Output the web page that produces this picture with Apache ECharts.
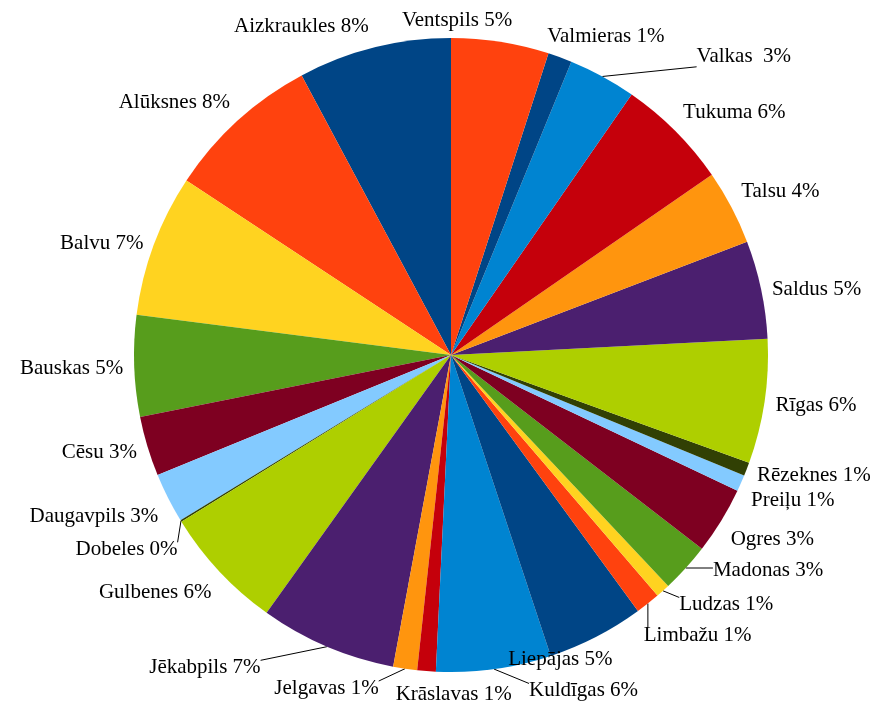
<!DOCTYPE html>
<html>
<head>
<meta charset="utf-8">
<script src="https://cdn.jsdelivr.net/npm/echarts@6/dist/echarts.min.js"></script>
<style>html,body{margin:0;padding:0;background:#fff;}#c{width:882px;height:706px;}</style>
</head>
<body>
<div id="c"></div>
<script>
const categories = ["Aizkraukles","Alūksnes","Balvu","Bauskas","Cēsu","Daugavpils","Dobeles","Gulbenes","Jēkabpils","Jelgavas","Krāslavas","Kuldīgas","Liepājas","Limbažu","Ludzas","Madonas","Ogres","Preiļu","Rēzeknes","Rīgas","Saldus","Talsu","Tukuma","Valkas ","Valmieras","Ventspils"];
const values = [7.8,7.9,7.25,5.15,3.05,2.55,0.08,6.3,6.95,1.22,0.94,5.85,4.94,1.25,0.72,2.52,3.42,0.83,0.69,6.33,5.0,3.8,5.72,3.45,1.22,4.97];
const palette = ["#004586","#ff420e","#ffd320","#579d1c","#7e0021","#83caff","#314004","#aecf00","#4b1f6f","#ff950e","#c5000b","#0084d1"];

// layout settings (not data)
const CX = 451, CY = 355, R = 317, GAP = 11;
// label nudges away from the default outside placement (used to resolve overlaps)
const labelNudge = {
  "Aizkraukles":[-70,0], "Ventspils":[-45,0], "Valmieras":[42,0], "Valkas ":[89,0],
  "Madonas":[19,-18], "Ludzas":[9,-7], "Limbažu":[-11,10], "Liepājas":[-93,0],
  "Kuldīgas":[88,-2], "Krāslavas":[28,-1], "Jelgavas":[-77,-4], "Jēkabpils":[-62,-2],
  "Dobeles":[6,10]
};
const leaderNames = ["Valkas ","Madonas","Ludzas","Limbažu","Kuldīgas","Jelgavas","Jēkabpils","Dobeles"];

const total = values.reduce((a,b)=>a+b,0);
const mids = [];
(function(){ let cum=0; values.forEach(v=>{ mids.push(360*(1-(cum+v/2)/total)); cum+=v; }); })();

function layoutLabel(params){
  const i = params.dataIndex;
  const th = mids[i]*Math.PI/180;
  const ux = Math.sin(th), uy = -Math.cos(th);
  const ax = CX + (R+GAP)*ux, ay = CY + (R+GAP)*uy;
  const w = params.labelRect.width, h = params.labelRect.height;
  let phi = ((90 - mids[i]) % 360 + 360) % 360;
  let fx, fy;
  if (phi <= 22.5 || phi >= 337.5) { fx=0; fy=0.5; }
  else if (phi < 67.5) { fx=0; fy=1; }
  else if (phi < 112.5) { fx=0.5; fy=1; }
  else if (phi <= 157.5) { fx=1; fy=1; }
  else if (phi <= 202.5) { fx=1; fy=0.5; }
  else if (phi < 247.5) { fx=1; fy=0; }
  else if (phi < 292.5) { fx=0.5; fy=0; }
  else { fx=0; fy=0; }
  const n = labelNudge[categories[i]] || [0,0];
  const left = ax - fx*w + n[0];
  const top = ay - fy*h + n[1] + (fy < 1 ? 2.5 : 0);
  const ex = CX + R*ux, ey = CY + R*uy;
  const px = Math.min(Math.max(ex, left), left+w);
  const py = Math.min(Math.max(ey, top+3), top+h);
  return {
    x:left, y:top, align:'left', verticalAlign:'top',
    labelLinePoints:[[ex,ey],[px,py],[px,py]]
  };
}

const chart = echarts.init(document.getElementById('c'), null, {renderer:'canvas'});
chart.setOption({
  animation:false,
  backgroundColor:'#fff',
  color: palette,
  series:[{
    type:'pie',
    center:[CX,CY],
    radius:R,
    startAngle:90,
    clockwise:false,
    avoidLabelOverlap:false,
    itemStyle:{borderWidth:0},
    label:{
      show:true, position:'outside', color:'#000',
      fontFamily:'Liberation Serif', fontSize:21,
      formatter: p => p.name + ' ' + Math.round(p.percent) + '%'
    },
    labelLine:{show:true,length:5,length2:5,lineStyle:{color:'#000',width:1}},
    labelLayout: layoutLabel,
    data: categories.map((n,i)=>({
      name:n, value:values[i],
      labelLine:{show: leaderNames.indexOf(n) >= 0}
    }))
  }]
});
</script>
</body>
</html>
